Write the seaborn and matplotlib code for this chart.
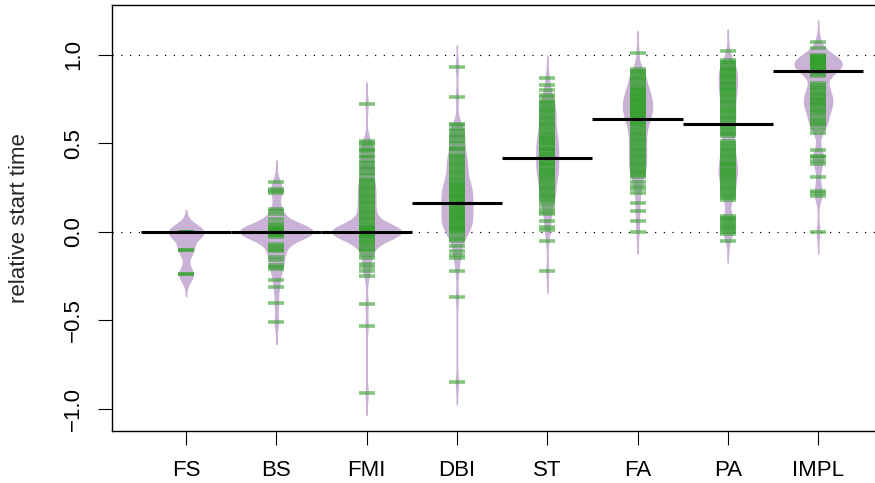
import matplotlib.pyplot as plt
import numpy as np
import pandas as pd
import seaborn as sns

groups = ["FS", "BS", "FMI", "DBI", "ST", "FA", "PA", "IMPL"]

fs = [0.0, 0.0, 0.0, 0.0, 0.0, -0.10, -0.10, -0.24, -0.24]
bs = [0.28, 0.24, 0.23, 0.22, 0.13, 0.12, 0.10, 0.07, 0.05, 0.04, 0.03,
      0.02, 0.02, 0.01, 0.01, 0.01, 0.0, 0.0, 0.0, 0.0, 0.0, 0.0, 0.0, 0.0,
      0.0, 0.0, 0.0, 0.0, -0.01, -0.01, -0.01, -0.02, -0.02, -0.03,
      -0.07, -0.08, -0.09, -0.10, -0.11, -0.14, -0.16, -0.19, -0.20, -0.21,
      -0.27, -0.31, -0.40, -0.51]
fmi = [0.72,
       0.51, 0.50, 0.49, 0.47, 0.46, 0.45, 0.43, 0.42, 0.40, 0.39, 0.37, 0.36,
       0.35, 0.33, 0.32, 0.30, 0.29, 0.28,
       0.27, 0.26, 0.25, 0.24, 0.23, 0.22, 0.21, 0.20, 0.19, 0.18, 0.17, 0.16,
       0.15, 0.14, 0.13, 0.12, 0.11, 0.10, 0.09, 0.08, 0.07, 0.06, 0.05, 0.04,
       0.03, 0.03, 0.02, 0.02, 0.01, 0.01, 0.01,
       0.0, 0.0, 0.0, 0.0, 0.0, 0.0, 0.0, 0.0, 0.0, 0.0, 0.0, 0.0,
       0.0, 0.0, 0.0, 0.0, 0.0, 0.0, 0.0, 0.0, 0.0, 0.0, 0.0, 0.0,
       -0.01, -0.01, -0.01, -0.02, -0.02, -0.03, -0.03, -0.04, -0.05, -0.06,
       -0.07, -0.08, -0.09, -0.10, -0.11,
       -0.13, -0.15, -0.18, -0.20, -0.22, -0.25, -0.41, -0.53, -0.91]
dbi = [0.93, 0.76,
       0.61, 0.60, 0.58, 0.57, 0.55, 0.54, 0.53, 0.51, 0.50, 0.48, 0.47, 0.46,
       0.44, 0.43, 0.42, 0.41, 0.40, 0.39, 0.38, 0.37, 0.36, 0.35, 0.34, 0.33,
       0.32, 0.31, 0.30, 0.29, 0.28, 0.27, 0.27, 0.26, 0.25, 0.25, 0.24, 0.23,
       0.23, 0.22, 0.21, 0.21, 0.20, 0.19, 0.19, 0.18, 0.17, 0.17, 0.16, 0.15,
       0.15, 0.14, 0.13, 0.13, 0.12, 0.11, 0.11, 0.10, 0.09, 0.09, 0.08, 0.07,
       0.07, 0.06, 0.05, 0.05, 0.04, 0.03, 0.03, 0.02, 0.01, 0.01, 0.0,
       -0.01, -0.03, -0.04, -0.05, -0.08, -0.11, -0.13, -0.15, -0.22, -0.37,
       -0.85]
st = [0.87, 0.83, 0.80, 0.77, 0.76, 0.74, 0.73,
      0.72, 0.71, 0.70, 0.69, 0.68, 0.67, 0.66, 0.65, 0.64, 0.63, 0.62, 0.61,
      0.60, 0.59, 0.58, 0.57, 0.56, 0.55, 0.54, 0.53, 0.52, 0.51, 0.50, 0.49,
      0.48, 0.47, 0.46, 0.45, 0.44, 0.43, 0.42, 0.41, 0.40, 0.39, 0.38, 0.37,
      0.36, 0.35, 0.34, 0.33, 0.32, 0.31, 0.30, 0.29, 0.28, 0.27, 0.26, 0.25,
      0.24, 0.23, 0.22, 0.21, 0.20, 0.19, 0.18,
      0.53, 0.50, 0.47, 0.44, 0.41, 0.38, 0.35, 0.32,
      0.17, 0.15, 0.13, 0.11, 0.10, 0.06, 0.03, 0.01, -0.05, -0.22]
fa = [1.01, 0.92, 0.91, 0.90, 0.89, 0.88, 0.87, 0.86, 0.85, 0.84, 0.83, 0.82,
      0.81, 0.80, 0.79, 0.78, 0.77, 0.76, 0.75, 0.74, 0.73, 0.72, 0.71, 0.70,
      0.69, 0.68, 0.67, 0.66, 0.65, 0.64, 0.63, 0.62, 0.61, 0.60, 0.59, 0.58,
      0.57, 0.56, 0.55, 0.54, 0.53, 0.52, 0.51, 0.50, 0.49, 0.48, 0.47, 0.46,
      0.45, 0.44, 0.43, 0.42, 0.41, 0.40, 0.39, 0.38, 0.37, 0.36, 0.35, 0.34,
      0.33, 0.32, 0.31,
      0.80, 0.78, 0.76, 0.75, 0.74, 0.72, 0.71, 0.70, 0.68, 0.67, 0.66, 0.64,
      0.62,
      0.28, 0.26, 0.24, 0.22, 0.16, 0.12, 0.06, 0.0]
pa = [1.02, 0.97, 0.96, 0.95, 0.94, 0.93, 0.92, 0.91, 0.90, 0.89, 0.88, 0.87,
      0.86, 0.85, 0.84, 0.83, 0.82, 0.81, 0.80, 0.79, 0.78, 0.77, 0.76, 0.75,
      0.74, 0.73, 0.72, 0.71, 0.70, 0.69, 0.68, 0.67, 0.66, 0.65, 0.64, 0.63,
      0.62, 0.61, 0.60, 0.59, 0.58, 0.57, 0.56, 0.55, 0.54,
      0.51, 0.50, 0.49, 0.48, 0.47, 0.46, 0.45, 0.44, 0.43, 0.42, 0.41, 0.40,
      0.39, 0.38, 0.37, 0.36, 0.35, 0.34, 0.33, 0.32, 0.31, 0.30, 0.29, 0.28,
      0.27, 0.26, 0.25, 0.24, 0.23, 0.22, 0.21, 0.20, 0.19, 0.18,
      0.92, 0.88, 0.84, 0.80, 0.38, 0.35, 0.32,
      0.09, 0.08, 0.07, 0.06, 0.05, 0.04, 0.03, 0.02, 0.01, 0.0, -0.01, -0.05]
impl = [1.07, 1.04, 1.00, 0.99, 0.99, 0.98, 0.98, 0.97, 0.97, 0.97, 0.96, 0.96,
        0.96, 0.95, 0.95, 0.95, 0.94, 0.94, 0.93, 0.93, 0.92, 0.92, 0.91, 0.91,
        0.90, 0.90, 0.89, 0.88,
        0.84, 0.83, 0.82, 0.81, 0.80, 0.79, 0.78, 0.77, 0.76, 0.75, 0.75, 0.74,
        0.73, 0.72, 0.72, 0.71, 0.70, 0.69, 0.68, 0.67, 0.66,
        0.64, 0.63, 0.62, 0.61, 0.60, 0.58, 0.56, 0.46, 0.43, 0.42, 0.40, 0.38,
        0.31, 0.23, 0.22, 0.20, 0.0]

# black bean lines and bean half widths
bean_lines = [0.0, 0.0, 0.0, 0.165, 0.415, 0.635, 0.61, 0.905]
bean_halfwidths = [0.19, 0.40, 0.38, 0.17, 0.12, 0.16, 0.10, 0.26]

purple = "#CAB2D6"
green = "#33A02C"

values = [fs, bs, fmi, dbi, st, fa, pa, impl]
df = pd.DataFrame({
    "method": [g for g, v in zip(groups, values) for _ in v],
    "start": [x for v in values for x in v],
})

sns.set_style("ticks")
plt.rcParams["font.family"] = ["Liberation Sans", "DejaVu Sans"]

fig = plt.figure(figsize=(8.75, 4.83), dpi=100)
ax = fig.add_axes([112 / 875, 1 - 431 / 483, 1 - 112 / 875, 426 / 483])


def fixed_bw(kde):
    # same absolute bandwidth for every bean
    return 0.041 / np.std(kde.dataset, ddof=1)


for name, hw in zip(groups, bean_halfwidths):
    sns.violinplot(
        data=df[df["method"] == name], x="method", y="start", order=groups,
        ax=ax, width=2 * hw, density_norm="width", bw_method=fixed_bw, cut=3,
        gridsize=400, inner=None, color=purple, saturation=1,
        linecolor=purple, linewidth=1,
    )

sns.stripplot(
    data=df, x="method", y="start", order=groups, ax=ax, jitter=False,
    marker="_", size=11, linewidth=2.6, color=green, alpha=0.6, zorder=3,
)

pos = np.arange(len(groups))
ax.hlines(bean_lines, pos - 0.5, pos + 0.5, color="black", lw=2.2, zorder=4)
for y in (0, 1):
    ax.axhline(y, color="black", lw=0.9, linestyle=(0, (1, 6)), zorder=0.5)

ax.set_xlim(-0.82, 7.63)
ax.set_ylim(-1.124, 1.28)
ax.set_yticks([-1.0, -0.5, 0.0, 0.5, 1.0])
ax.set_xlabel("")
ax.set_ylabel("relative start time", fontsize=16)
ax.yaxis.set_label_coords(-0.107, 0.5)
ax.tick_params(length=10, width=0.8, pad=11, labelsize=16, colors="black")
ax.tick_params(axis="y", labelrotation=90, pad=10)
for lbl in ax.get_yticklabels():
    lbl.set_va("center")
ax.spines["right"].set_visible(False)
for s in ("left", "top", "bottom"):
    ax.spines[s].set_linewidth(1)
    ax.spines[s].set_color("black")

fig.savefig("out.png", dpi=100)
